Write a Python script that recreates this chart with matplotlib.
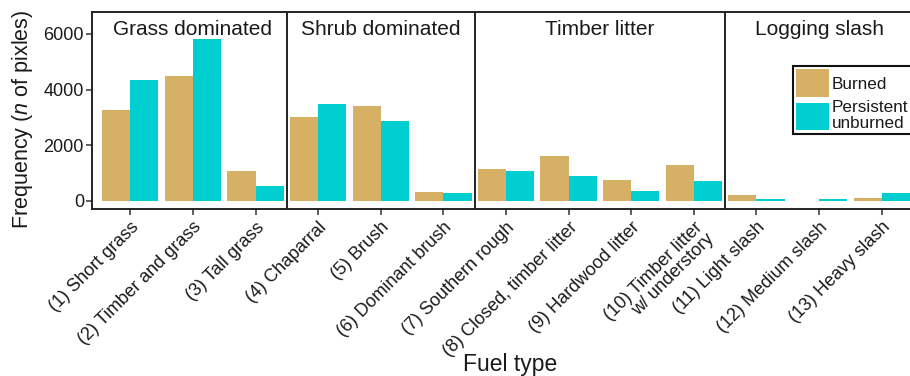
import matplotlib
matplotlib.use('Agg')
import matplotlib.pyplot as plt
import numpy as np
from matplotlib.patches import Patch

plt.rcParams['font.family'] = ['Liberation Sans', 'DejaVu Sans']
plt.rcParams['mathtext.fontset'] = 'custom'
plt.rcParams['mathtext.it'] = 'Liberation Sans:italic'
plt.rcParams['mathtext.rm'] = 'Liberation Sans'

fuel_types = ['(1) Short grass', '(2) Timber and grass', '(3) Tall grass',
              '(4) Chaparral', '(5) Brush', '(6) Dominant brush',
              '(7) Southern rough', '(8) Closed, timber litter',
              '(9) Hardwood litter', '(10) Timber litter\nw/ understory',
              '(11) Light slash', '(12) Medium slash', '(13) Heavy slash']
burned = [3250, 4500, 1070, 3020, 3420, 300, 1140, 1620, 745, 1285, 205, 0, 97]
unburned = [4340, 5820, 540, 3480, 2880, 265, 1080, 890, 350, 700, 62, 72, 277]
groups = ['Grass dominated', 'Shrub dominated', 'Timber litter', 'Logging slash']
group_sizes = [3, 3, 4, 3]

c_burned = '#D6B064'
c_unburned = '#00CED1'
ink = '#1a1a1a'

W, H = 910, 376
fig = plt.figure(figsize=(W / 100, H / 100), dpi=100)
# axes runs a few pixels past the right edge of the canvas
left, right, top, bottom = 92.3, 913, 12, 209
ax = fig.add_axes([left / W, 1 - bottom / H, (right - left) / W, (bottom - top) / H])

x = np.arange(len(fuel_types))
bw = 0.45
ax.bar(x - bw / 2, burned, width=bw, color=c_burned, linewidth=0)
ax.bar(x + bw / 2, unburned, width=bw, color=c_unburned, linewidth=0)

ax.set_xlim(-0.607, 12.5)
ax.set_ylim(-300, 6790)
ax.set_yticks([0, 2000, 4000, 6000])
ax.set_xticks(x)
ax.set_xticklabels(fuel_types, rotation=45, ha='right', va='top',
                   rotation_mode='anchor', fontsize=13,
                   color=ink, linespacing=1.0)
ax.tick_params(axis='y', labelsize=13, labelcolor=ink, length=4, width=1.1,
               color='#333333', pad=2)
ax.tick_params(axis='x', length=4, width=1.1, color='#333333', pad=3)

for side in ['left', 'bottom', 'top', 'right']:
    ax.spines[side].set_color('#222222')
    ax.spines[side].set_linewidth(1.4)

# panel dividers and group titles
edges = np.cumsum(group_sizes)
for e in edges[:-1]:
    ax.axvline(e - 0.5, color='#222222', linewidth=1.4)
starts = np.concatenate([[0], edges[:-1]])
for name, s, n in zip(groups, starts, group_sizes):
    ax.text(s + (n - 1) / 2, 5965, name, ha='center', va='baseline',
            fontsize=15, color=ink)

ax.set_ylabel('Frequency ($\\it{n}$ of pixles)', fontsize=15.5, color=ink,
              va='center')
ax.yaxis.set_label_coords((23 - left) / (right - left), (bottom - 119.5) / (bottom - top))
ax.set_xlabel('Fuel type', fontsize=16.5, color=ink, va='baseline')
ax.xaxis.set_label_coords((510 - left) / (right - left), (bottom - 371) / (bottom - top))

handles = [Patch(facecolor=c_burned, label='Burned'),
           Patch(facecolor=c_unburned, label='Persistent\nunburned')]
leg = ax.legend(handles=handles, loc='upper left',
                bbox_to_anchor=(792.5 / W, 1 - 66 / H),
                bbox_transform=fig.transFigure, fancybox=False,
                framealpha=1, edgecolor='#111111', fontsize=12.3,
                handlelength=1.95, handleheight=2.1, handletextpad=0.15,
                borderpad=0.2, labelspacing=0.2, borderaxespad=0)
leg.get_frame().set_linewidth(1.5)
for t in leg.get_texts():
    t.set_color(ink)
    t.set_linespacing(1.05)

fig.savefig('out.png', dpi=100)
